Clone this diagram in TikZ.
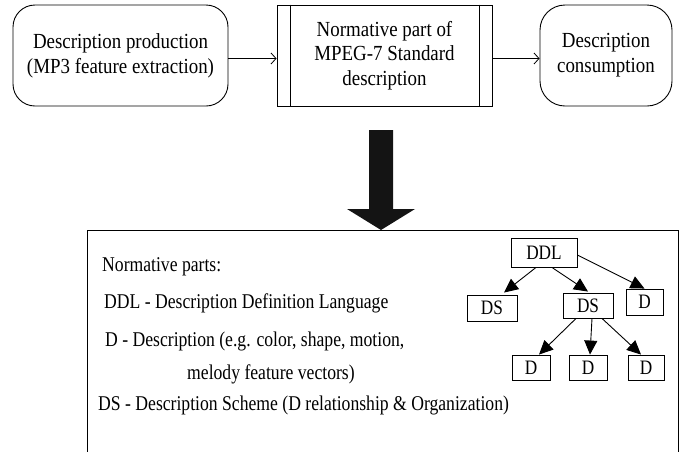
\documentclass[tikz,border=0pt]{standalone}
\usepackage{fontspec}
\setmainfont{Liberation Serif}
\newfontfamily\headfont[FakeStretch=0.88]{Liberation Serif}
\newfontfamily\notefont[FakeStretch=0.84]{Liberation Serif}
\usetikzlibrary{arrows.meta}
\begin{document}
\begin{tikzpicture}[x=1pt,y=-1pt,
  stagebox/.style={draw, line width=0.9pt, rounded corners=22pt, inner sep=0pt,
    align=center, font=\headfont\fontsize{21.5}{25}\selectfont},
  normbox/.style={draw, line width=0.9pt, inner sep=0pt,
    align=center, font=\headfont\fontsize{21.5}{24.5}\selectfont},
  flow/.style={line width=0.8pt, -{Straight Barb[length=5pt,width=11pt]}},
  treebox/.style={draw, line width=0.9pt, inner sep=0pt,
    font=\notefont\fontsize{20.5}{24}\selectfont},
  treearrow/.style={line width=0.9pt, -{Triangle[length=14pt,width=13pt]}},
  note/.style={anchor=base west, inner sep=0pt,
    font=\notefont\fontsize{21}{24}\selectfont},
]
\useasboundingbox (0,0) rectangle (680,451);

% --- processing chain ---
\node[stagebox, minimum width=215pt, minimum height=101pt] (prod) at (120.5,55.5)
  {Description production\\(MP3 feature extraction)};
\node[normbox, minimum width=215pt, minimum height=101pt] (norm) at (384.5,55.5)
  {Normative part of\\MPEG-7 Standard\\description};
\draw[line width=0.9pt] ([xshift=13.5pt]norm.north west) -- ([xshift=13.5pt]norm.south west);
\draw[line width=0.9pt] ([xshift=-13.5pt]norm.north east) -- ([xshift=-13.5pt]norm.south east);
\node[stagebox, rounded corners=25pt, minimum width=132pt, minimum height=101pt] (cons) at (606,55.5)
  {Description\\consumption};

\draw[flow] ([yshift=-3pt]prod.east) -- ([yshift=-3pt]norm.west);
\draw[flow] ([yshift=-3pt]norm.east) -- ([yshift=-3pt]cons.west);

% --- big downward arrow ---
\fill[black!92] (369,130) -- (393,130) -- (393,209) -- (415,209) -- (381,230)
  -- (347,209) -- (369,209) -- cycle;

% --- panel with the normative parts (open at the bottom) ---
\draw[line width=0.9pt] (87,452) -- (87,230) -- (678,230) -- (678,452);

\node[note] (n0) at (102,271) {Normative parts:};
\node[note] (n1) at (104,308) {DDL - Description Definition Language};
\node[note] (n2) at (105,346) {D - Description (e.g. color, shape, motion,};
\node[note] (n3) at (187,379) {melody feature vectors)};
\node[note] (n4) at (98,410) {DS - Description Scheme (D relationship \& Organization)};

% --- DDL / DS / D hierarchy ---
\node[treebox, minimum width=66pt, minimum height=29pt] (ddl) at (544,252.5) {DDL};
\node[treebox, minimum width=50pt, minimum height=26pt] (dsa) at (492,308) {DS};
\node[treebox, minimum width=50pt, minimum height=25pt] (dsb) at (588,305.5) {DS};
\node[treebox, minimum width=37pt, minimum height=26pt] (dc) at (644.5,302) {D};
\node[treebox, minimum width=38pt, minimum height=25pt] (d1) at (531,367.5) {D};
\node[treebox, minimum width=38pt, minimum height=25pt] (d2) at (588,367.5) {D};
\node[treebox, minimum width=36pt, minimum height=25pt] (d3) at (646,367.5) {D};

\draw[treearrow] ([xshift=-8pt]ddl.south) -- ([xshift=12pt,yshift=2pt]dsa.north);
\draw[treearrow] ([xshift=8pt]ddl.south) -- ([yshift=1pt]dsb.north);
\draw[treearrow] ([yshift=-2.5pt]ddl.east) -- (dc.north);
\draw[treearrow] ([xshift=-12pt]dsb.south) -- ([xshift=8pt]d1.north);
\draw[treearrow] ([xshift=4pt]dsb.south) -- ([xshift=2pt]d2.north);
\draw[treearrow] ([xshift=14pt]dsb.south) -- ([xshift=-5pt]d3.north);
\end{tikzpicture}
\end{document}
